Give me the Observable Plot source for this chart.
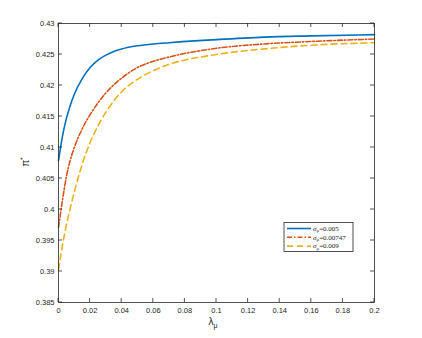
<!DOCTYPE html>
<html><head><meta charset="utf-8">
<script src="https://cdn.jsdelivr.net/npm/d3@7"></script>
<script src="https://cdn.jsdelivr.net/npm/@observablehq/plot@0.6"></script>
<style>body{margin:0;background:#fff} #chart{position:relative;width:422px;height:338px}</style>
</head><body><div id="chart"></div>
<script>
const lambda   = [0, 0.0025, 0.005, 0.0075, 0.01, 0.015, 0.02, 0.025, 0.03, 0.035, 0.04, 0.05, 0.06, 0.07, 0.1, 0.13, 0.16, 0.2];
const pi005    = [0.4079, 0.4118, 0.4147, 0.4168, 0.4186, 0.4211, 0.4229, 0.4241, 0.4249, 0.4255, 0.4259, 0.4264, 0.4267, 0.4269, 0.4274, 0.4278, 0.4280, 0.4282];
const pi00747  = [0.3971, 0.4015, 0.4053, 0.4080, 0.4100, 0.4130, 0.4153, 0.4172, 0.4188, 0.4201, 0.4212, 0.4229, 0.4239, 0.4246, 0.4260, 0.4267, 0.4271, 0.4275];
const pi009    = [0.3903, 0.3942, 0.3975, 0.4003, 0.4028, 0.4073, 0.4108, 0.4135, 0.4157, 0.4175, 0.4190, 0.4210, 0.4224, 0.4234, 0.4250, 0.4259, 0.4265, 0.4269];
const seriesNames = ["0.005", "0.00747", "0.009"];
const seriesColors = ["#0072BD", "#D95319", "#EDB120"];
const seriesDash = [null, "5,2,1.5,2", "6,4"];
const xTicks = [0, 0.02, 0.04, 0.06, 0.08, 0.1, 0.12, 0.14, 0.16, 0.18, 0.2];
const xTickLabels = ["0", "0.02", "0.04", "0.06", "0.08", "0.1", "0.12", "0.14", "0.16", "0.18", "0.2"];
const yTicks = [0.385, 0.39, 0.395, 0.4, 0.405, 0.41, 0.415, 0.42, 0.425, 0.43];
const yTickLabels = ["0.385", "0.39", "0.395", "0.4", "0.405", "0.41", "0.415", "0.42", "0.425", "0.43"];

const seriesValues = [pi005, pi00747, pi009];
const tables = seriesValues.map((vals, s) => lambda.map((l, i) => ({lambda: l, pi: vals[i], series: seriesNames[s]})));

const axisColor = "#262626";
const fmtX = d => xTickLabels[xTicks.indexOf(d)];
const fmtY = d => yTickLabels[yTicks.indexOf(d)];
const T = 4; // inward tick length

const chart = Plot.plot({
  width: 422, height: 338,
  marginLeft: 58, marginRight: 48, marginTop: 23, marginBottom: 36,
  style: {fontFamily: "'Liberation Sans', Arial, sans-serif", fontSize: "7.5px", color: axisColor, background: "#fff"},
  x: {domain: [0, 0.2]},
  y: {domain: [0.385, 0.43]},
  marks: [
    ...tables.map((t, s) => Plot.line(t, {x: "lambda", y: "pi", curve: "monotone-x", stroke: seriesColors[s], strokeWidth: 1.6, strokeDasharray: seriesDash[s]})),
    Plot.frame({stroke: axisColor, strokeWidth: 0.8}),
    Plot.axisX(xTicks, {anchor: "bottom", tickSize: 0, tickPadding: 5, tickFormat: fmtX, fill: axisColor, label: null}),
    Plot.axisY(yTicks, {anchor: "left", tickSize: 0, tickPadding: 4, tickFormat: fmtY, fill: axisColor, label: null})
  ]
});
document.getElementById("chart").appendChild(chart);

const svg = d3.select(chart);
const sx = chart.scale("x"), sy = chart.scale("y");
const [xl0, xr0] = sx.range, [yb0, yt0] = sy.range;
// inward ticks on all four sides
const tg = svg.append("g").attr("stroke", axisColor).attr("stroke-width", 0.8);
xTicks.forEach(v => {
  const px = sx.apply(v);
  tg.append("line").attr("x1", px).attr("x2", px).attr("y1", yb0).attr("y2", yb0 - T);
  tg.append("line").attr("x1", px).attr("x2", px).attr("y1", yt0).attr("y2", yt0 + T);
});
yTicks.forEach(v => {
  const py = sy.apply(v);
  tg.append("line").attr("x1", xl0).attr("x2", xl0 + T).attr("y1", py).attr("y2", py);
  tg.append("line").attr("x1", xr0).attr("x2", xr0 - T).attr("y1", py).attr("y2", py);
});

// axis labels
const xl = svg.append("text").attr("x", 213).attr("y", 325).attr("text-anchor", "middle")
  .attr("font-family", "'Liberation Sans', Arial, sans-serif").attr("font-size", 10).attr("fill", axisColor);
xl.append("tspan").text("λ");
xl.append("tspan").attr("font-size", 7).attr("dy", 2.5).text("μ");
const yl = svg.append("text").attr("transform", "translate(29,162) rotate(-90)").attr("text-anchor", "middle")
  .attr("font-family", "'Liberation Sans', Arial, sans-serif").attr("font-size", 10).attr("fill", axisColor);
yl.append("tspan").text("π");
yl.append("tspan").attr("font-size", 7).attr("dy", -4).text("*");

// legend
const lg = svg.append("g").attr("text-anchor", "start");
lg.append("rect").attr("x", 284).attr("y", 222.5).attr("width", 69).attr("height", 29)
  .attr("fill", "#fff").attr("stroke", axisColor).attr("stroke-width", 0.8);
seriesNames.forEach((name, s) => {
  const yy = 228.5 + s * 8.8;
  lg.append("line").attr("x1", 287).attr("x2", 311).attr("y1", yy).attr("y2", yy)
    .attr("stroke", seriesColors[s]).attr("stroke-width", 1.6).attr("stroke-dasharray", seriesDash[s]);
  const t = lg.append("text").attr("x", 313).attr("y", yy + 2.3).attr("text-anchor", "start")
    .attr("font-family", "'Liberation Serif', 'Times New Roman', serif").attr("font-size", 7).attr("fill", axisColor);
  t.append("tspan").attr("font-style", "italic").text("σ");
  t.append("tspan").attr("font-size", 5).attr("dy", 1.5).text("μ");
  t.append("tspan").attr("dy", -1.5).text("=" + name);
});
</script>
</body></html>
